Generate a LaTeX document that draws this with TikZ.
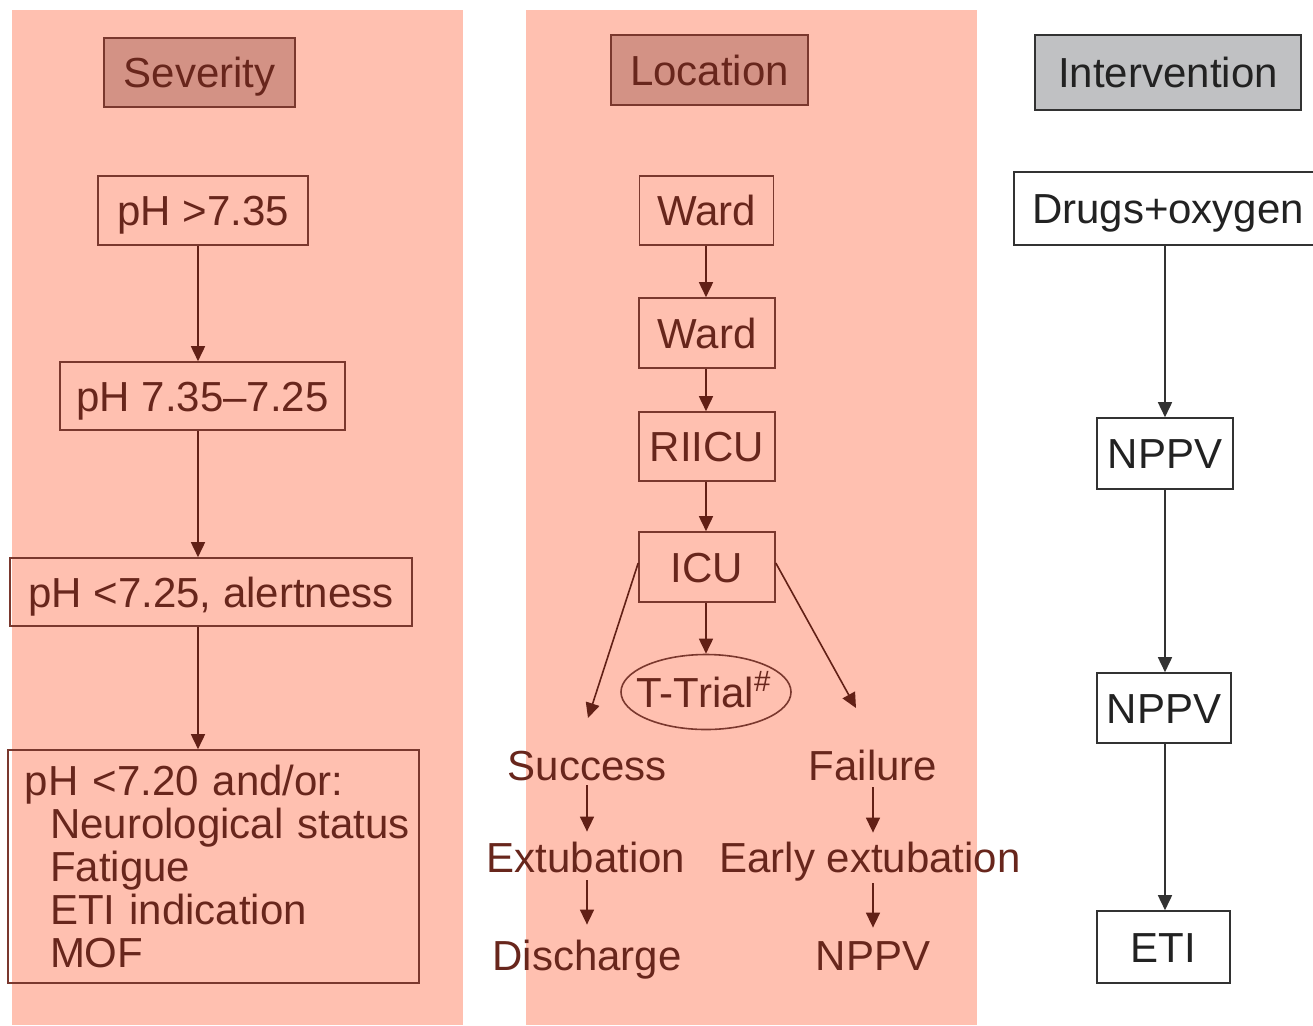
\documentclass[tikz,border=0pt]{standalone}
\usepackage{fontspec}
\setmainfont{Liberation Sans}
\usetikzlibrary{arrows.meta,shapes.geometric}
\definecolor{panel}{RGB}{255,192,176}
\definecolor{headfill}{RGB}{211,146,133}
\definecolor{brline}{RGB}{122,56,46}
\definecolor{brtext}{RGB}{104,38,28}
\definecolor{brarrow}{RGB}{98,32,22}
\definecolor{grayfill}{RGB}{192,193,195}
\definecolor{gline}{RGB}{50,50,50}
\definecolor{gtext}{RGB}{34,34,34}
\tikzset{
  txt/.style={font=\fontsize{21}{21.5}\selectfont, inner sep=0pt},
  oneline/.style={text height=15pt, text depth=0pt},
  brbox/.style={txt, draw=brline, line width=0.8pt, text=brtext},
  brone/.style={brbox, oneline},
  brhead/.style={brone, fill=headfill},
  brplain/.style={txt, oneline, text=brtext},
  gbox/.style={txt, oneline, draw=gline, line width=0.8pt, text=gtext, fill=white},
  ghead/.style={gbox, fill=grayfill},
  brarr/.style={draw=brarrow, line width=0.8pt, -{Triangle[length=7.5pt,width=7pt]}},
  garr/.style={draw=gline, line width=0.8pt, -{Triangle[length=7.5pt,width=7pt]}},
}
\begin{document}
\begin{tikzpicture}[x=0.5pt,y=-0.5pt]
\useasboundingbox (0,0) rectangle (1313,1025);
\fill[white] (0,0) rectangle (1313,1025);
% panels
\fill[panel] (12,10) rectangle (463,1025);
\fill[panel] (526,10) rectangle (977,1025);

% Severity column
\node[brhead, minimum width=95.5pt, minimum height=34.5pt] (sev) at (199.5,72.5) {Severity};
\node[brone, minimum width=105pt, minimum height=34.5pt] (ph1) at (203,210.5) {pH >7.35};
\node[brone, minimum width=142.5pt, minimum height=34pt] (ph2) at (202.5,396) {pH 7.35–7.25};
\node[brone, minimum width=201pt, minimum height=34pt] (ph3) at (211,592) {pH <7.25, alertness};
\node[brbox, minimum width=205.5pt, minimum height=116.5pt, text width=205.5pt, align=left] (ph4) at (213.5,866.5)
  {\hspace*{8.5pt}pH <7.20 and/or:\\
   \hspace*{21pt}Neurological status\\
   \hspace*{21pt}Fatigue\\
   \hspace*{21pt}ETI indication\\
   \hspace*{21pt}MOF};
\draw[brarr] (ph1.south -| 198,0) -- (ph2.north -| 198,0);
\draw[brarr] (ph2.south -| 198,0) -- (ph3.north -| 198,0);
\draw[brarr] (ph3.south -| 198,0) -- (ph4.north -| 198,0);

% Location column
\node[brhead, minimum width=98.5pt, minimum height=35pt] (loc) at (709.5,70) {Location};
\node[brone, minimum width=67pt, minimum height=34.5pt] (ward1) at (706.5,210.5) {Ward};
\node[brone, minimum width=68pt, minimum height=35pt] (ward2) at (707,333) {Ward};
\node[brone, minimum width=68pt, minimum height=34.5pt] (riicu) at (707,446.5) {RIICU};
\node[brone, minimum width=68pt, minimum height=35pt] (icu) at (707,567) {ICU};
\node[brone, ellipse, minimum width=85pt, minimum height=37.5pt] (ttrial) at (706,692)
  {\makebox[0pt]{\hspace*{-2pt}T-Trial\textsuperscript{\#}}};
\node[brplain] (succ) at (587,765) {Success};
\node[brplain] (fail) at (873,765) {Failure};
\node[brplain] (extub) at (586,857) {Extubation};
\node[brplain] (early) at (870,857) {Early extubation};
\node[brplain] (disch) at (587,955) {Discharge};
\node[brplain] (nppvl) at (873,955) {NPPV};
\coordinate (sucTip) at (588,718);
\coordinate (failTip) at (856,708);

\draw[brarr] (ward1.south -| 706,0) -- (ward2.north -| 706,0);
\draw[brarr] (ward2.south -| 706,0) -- (riicu.north -| 706,0);
\draw[brarr] (riicu.south -| 706,0) -- (icu.north -| 706,0);
\draw[brarr] (icu.south -| 706,0) -- (ttrial.north -| 706,0);
\draw[brarr] (icu.west) ++(0,-4) -- (sucTip);
\draw[brarr] (icu.east) ++(0,-4) -- (failTip);
\draw[brarr, shorten <=2.5pt, shorten >=5pt] (succ.south -| 587,0) -- (extub.north -| 587,0);
\draw[brarr, shorten <=4pt, shorten >=7.5pt] (extub.south -| 587,0) -- (disch.north -| 587,0);
\draw[brarr, shorten <=3.5pt, shorten >=4.5pt] (fail.south -| 873,0) -- (early.north -| 873,0);
\draw[brarr, shorten <=5.5pt, shorten >=6pt] (early.south -| 873,0) -- (nppvl.north -| 873,0);

% Intervention column
\node[ghead, minimum width=133pt, minimum height=37.5pt] (intv) at (1168,72.5) {Intervention};
\node[gbox, minimum width=151pt, minimum height=36.5pt] (drugs) at (1165,208.5) {\hspace*{3pt}Drugs+oxygen};
\node[gbox, minimum width=68pt, minimum height=35.5pt] (nppv1) at (1165,453.5) {NPPV};
\node[gbox, minimum width=67pt, minimum height=35pt] (nppv2) at (1164,708) {NPPV};
\node[gbox, minimum width=66.5pt, minimum height=36pt] (eti) at (1163.5,947) {ETI};
\draw[garr] (drugs.south -| 1165,0) -- (nppv1.north -| 1165,0);
\draw[garr] (nppv1.south -| 1165,0) -- (nppv2.north -| 1165,0);
\draw[garr] (nppv2.south -| 1165,0) -- (eti.north -| 1165,0);
\end{tikzpicture}
\end{document}
